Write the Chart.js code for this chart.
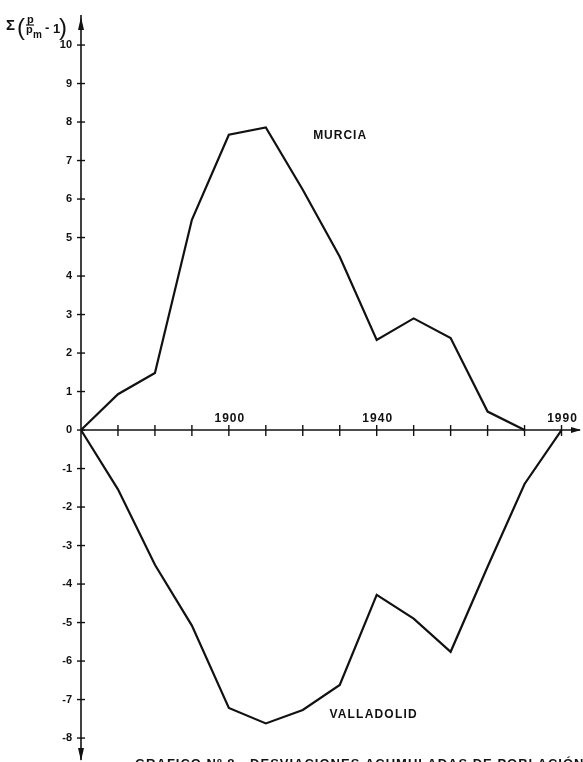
<!DOCTYPE html>
<html>
<head>
<meta charset="utf-8">
<script src="https://cdn.jsdelivr.net/npm/chart.js@4.4.1/dist/chart.umd.min.js"></script>
<style>
  html, body { margin: 0; padding: 0; background: #fff; }
  #wrap { width: 583px; height: 762px; position: relative; }
</style>
</head>
<body>
<div id="wrap"><canvas id="desvChart"></canvas></div>
<script>
// Years (x) and cumulative deviations (y)
const murciaYears = [1860, 1870, 1880, 1890, 1900, 1910, 1920, 1930, 1940, 1950, 1960, 1970, 1980];
const murciaValues = [0, 0.93, 1.48, 5.46, 7.67, 7.86, 6.24, 4.5, 2.34, 2.9, 2.39, 0.48, 0];
const valladolidYears = [1860, 1870, 1880, 1890, 1900, 1910, 1920, 1930, 1940, 1950, 1960, 1970, 1980, 1990];
const valladolidValues = [0, -1.54, -3.5, -5.08, -7.22, -7.62, -7.27, -6.62, -4.28, -4.9, -5.76, -3.55, -1.4, 0];

const yTicks = [10, 9, 8, 7, 6, 5, 4, 3, 2, 1, 0, -1, -2, -3, -4, -5, -6, -7, -8];
const xTicks = [1870, 1880, 1890, 1900, 1910, 1920, 1930, 1940, 1950, 1960, 1970, 1980, 1990];
const xLabels = ['1900', '1940', '1990'];
const seriesNames = ['MURCIA', 'VALLADOLID'];

const ink = '#111';
const boldFont = (size) => 'bold ' + size + 'px "Liberation Sans", Arial, sans-serif';

function toPoints(xs, ys) {
    return xs.map((x, i) => ({ x: x, y: ys[i] }));
}

// Draws the hand-drawn style axes, arrows, tick marks and free text
const figurePlugin = {
    id: 'figure',
    afterDatasetsDraw(chart) {
        const ctx = chart.ctx;
        const xs = chart.scales.x;
        const ys = chart.scales.y;
        const area = chart.chartArea;
        const x0 = xs.getPixelForValue(1860);
        const y0 = ys.getPixelForValue(0);

        ctx.save();
        ctx.strokeStyle = ink;
        ctx.fillStyle = ink;
        ctx.lineWidth = 1.6;

        // y axis with arrows at both ends
        ctx.beginPath();
        ctx.moveTo(x0, area.top);
        ctx.lineTo(x0, area.bottom);
        ctx.stroke();
        ctx.beginPath();
        ctx.moveTo(x0, area.top + 2);
        ctx.lineTo(x0 - 3, area.top + 15);
        ctx.lineTo(x0 + 3, area.top + 15);
        ctx.closePath();
        ctx.fill();
        ctx.beginPath();
        ctx.moveTo(x0, area.bottom + 1);
        ctx.lineTo(x0 - 3, area.bottom - 12);
        ctx.lineTo(x0 + 3, area.bottom - 12);
        ctx.closePath();
        ctx.fill();

        // x axis with arrow
        ctx.beginPath();
        ctx.moveTo(x0, y0);
        ctx.lineTo(area.right, y0);
        ctx.stroke();
        ctx.beginPath();
        ctx.moveTo(area.right + 1, y0);
        ctx.lineTo(area.right - 9, y0 - 3);
        ctx.lineTo(area.right - 9, y0 + 3);
        ctx.closePath();
        ctx.fill();

        // tick marks crossing the axes
        ctx.lineWidth = 1.4;
        yTicks.forEach(v => {
            const py = ys.getPixelForValue(v);
            ctx.beginPath();
            ctx.moveTo(x0 - 4, py);
            ctx.lineTo(x0 + 4, py);
            ctx.stroke();
        });
        xTicks.forEach(v => {
            const px = xs.getPixelForValue(v);
            ctx.beginPath();
            ctx.moveTo(px, y0 - 5);
            ctx.lineTo(px, y0 + 6);
            ctx.stroke();
        });

        // year labels above the axis
        ctx.font = boldFont(12);
        ctx.letterSpacing = '1px';
        ctx.textAlign = 'center';
        ctx.textBaseline = 'alphabetic';
        xLabels.forEach(t => {
            ctx.fillText(t, xs.getPixelForValue(Number(t)) + 1, y0 - 8);
        });

        // series names
        ctx.textAlign = 'left';
        ctx.font = boldFont(12);
        ctx.fillText(seriesNames[0], xs.getPixelForValue(1922.8), ys.getPixelForValue(7.55));
        ctx.letterSpacing = '1.2px';
        ctx.fillText(seriesNames[1], xs.getPixelForValue(1927.2), ys.getPixelForValue(-7.47));
        ctx.letterSpacing = '0px';

        // axis title: Σ(p / p̄m − 1)
        ctx.font = boldFont(15);
        ctx.fillText('Σ', 6, 30);
        ctx.font = '24px "Liberation Sans", Arial, sans-serif';
        ctx.fillText('(', 17, 35);
        ctx.fillText(')', 59, 35);
        ctx.font = boldFont(11);
        ctx.fillText('p', 27, 23);
        ctx.fillText('p', 26, 33);
        ctx.font = boldFont(10);
        ctx.fillText('m', 33, 38);
        ctx.lineWidth = 1.2;
        ctx.beginPath();
        ctx.moveTo(26, 25);
        ctx.lineTo(34, 25);
        ctx.stroke();
        ctx.font = boldFont(13);
        ctx.fillText('-', 45, 32);
        ctx.fillText('1', 53, 33);

        // caption, cut by the bottom edge as in the scan
        ctx.font = boldFont(13);
        ctx.letterSpacing = '1px';
        ctx.textBaseline = 'top';
        ctx.fillText('GRAFICO Nº 8.- DESVIACIONES ACUMULADAS DE POBLACIÓN', 135, 758);
        ctx.restore();
    }
};

const config = {
    type: 'line',
    data: {
        datasets: [{
            label: seriesNames[0],
            data: toPoints(murciaYears, murciaValues),
            borderColor: ink,
            borderWidth: 2.2,
            pointRadius: 0,
            tension: 0,
            fill: false
        }, {
            label: seriesNames[1],
            data: toPoints(valladolidYears, valladolidValues),
            borderColor: ink,
            borderWidth: 2.2,
            pointRadius: 0,
            tension: 0,
            fill: false
        }]
    },
    options: {
        responsive: true,
        maintainAspectRatio: false,
        animation: false,
        layout: {
            padding: { top: 15, right: 3, bottom: 2, left: 0 }
        },
        plugins: {
            legend: { display: false },
            tooltip: { enabled: false }
        },
        scales: {
            x: {
                type: 'linear',
                min: 1860,
                max: 1995,
                display: false
            },
            y: {
                type: 'linear',
                position: 'left',
                min: -8.57,
                max: 10.78,
                afterFit(scale) {
                    scale.width = 81;
                    scale.paddingTop = 0;
                    scale.paddingBottom = 0;
                },
                afterBuildTicks(scale) { scale.ticks = yTicks.map(v => ({ value: v })); },
                grid: { display: false, drawTicks: false },
                border: { display: false },
                ticks: {
                    color: ink,
                    padding: 9,
                    font: { family: '"Liberation Sans", Arial, sans-serif', weight: 'bold', size: 11 }
                }
            }
        }
    },
    plugins: [figurePlugin]
};

const desvChart = new Chart(document.getElementById('desvChart'), config);
</script>
</body>
</html>
